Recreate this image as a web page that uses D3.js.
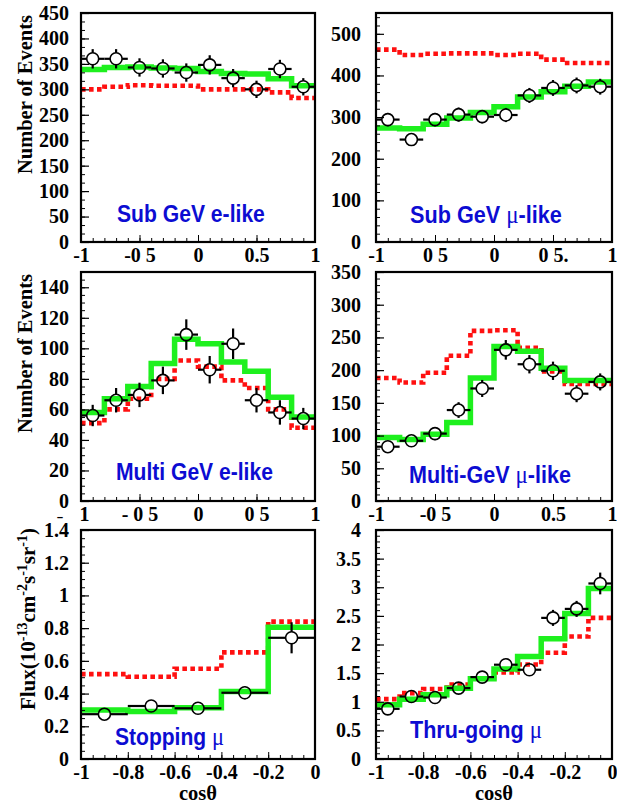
<!DOCTYPE html>
<html>
<head>
<meta charset="utf-8">
<script src="https://cdn.jsdelivr.net/npm/d3@7"></script>
<style>
  html, body { margin: 0; padding: 0; background: #fff; }
  svg { display: block; }
</style>
</head>
<body>
<svg id="chart" width="617" height="803"></svg>
<script>
// ---------- zenith-angle distributions ----------
// bin edges in cos(theta)
const edgesFull = [-1, -0.8, -0.6, -0.4, -0.2, 0, 0.2, 0.4, 0.6, 0.8, 1];
const edgesStop = [-1, -0.8, -0.6, -0.4, -0.2, 0];
const edgesThru = [-1, -0.9, -0.8, -0.7, -0.6, -0.5, -0.4, -0.3, -0.2, -0.1, 0];

// Sub-GeV e-like
const subEData   = [360, 360, 343, 341, 333, 348, 322, 300, 340, 305];
const subEErr    = [19, 19, 18, 18, 18, 19, 18, 17, 18, 17];
const subEOsc    = [339, 343, 344, 342, 341, 335, 331, 330, 321, 307];
const subENoOsc  = [300, 305, 308, 307, 307, 300, 300, 300, 294, 283];

// Sub-GeV mu-like
const subMuData  = [294, 246, 294, 306, 301, 305, 352, 370, 376, 373];
const subMuErr   = [16, 15, 16, 17, 16, 17, 18, 19, 19, 19];
const subMuOsc   = [274, 272, 283, 298, 311, 325, 348, 361, 374, 384];
const subMuNoOsc = [462, 449, 452, 453, 453, 449, 452, 438, 430, 430];

// Multi-GeV e-like
const mulEData   = [56, 66, 69.5, 79, 109, 86, 103, 66, 58, 54];
const mulEErr    = [7, 8, 8, 9, 10, 9, 10, 8, 8, 7];
const mulEOsc    = [58, 67, 75, 90, 106, 103, 91, 85, 68, 55];
const mulENoOsc  = [51, 60, 67, 80, 92, 88, 79, 74, 60, 48];

// Multi-GeV mu-like
const mulMuData  = [83, 92, 103, 139, 172, 231, 209, 199, 164, 182];
const mulMuErr   = [9, 9, 10, 12, 13, 15, 14, 14, 13, 13];
const mulMuOsc   = [97, 94, 102, 120, 188, 236, 229, 203, 184, 184];
const mulMuNoOsc = [188, 181, 196, 222, 260, 261, 234, 198, 179, 179];

// Upward stopping muons (flux, 1e-13 cm^-2 s^-1 sr^-1)
const stopData   = [0.274, 0.324, 0.310, 0.405, 0.741];
const stopErr    = [0.035, 0.035, 0.03, 0.04, 0.095];
const stopOsc    = [0.300, 0.290, 0.314, 0.412, 0.805];
const stopNoOsc  = [0.519, 0.503, 0.552, 0.652, 0.840];

// Upward through-going muons
const thruData   = [0.876, 1.092, 1.074, 1.238, 1.431, 1.647, 1.559, 2.465, 2.622, 3.066];
const thruErr    = [0.05, 0.06, 0.06, 0.06, 0.07, 0.09, 0.09, 0.14, 0.14, 0.19];
const thruOsc    = [0.946, 1.045, 1.121, 1.238, 1.402, 1.571, 1.792, 2.102, 2.540, 2.978];
const thruNoOsc  = [1.045, 1.15, 1.223, 1.30, 1.41, 1.51, 1.65, 1.855, 2.14, 2.465];

// axis ticks and labels
const yTicksSubE  = [0, 50, 100, 150, 200, 250, 300, 350, 400, 450];
const yTicksSubMu = [0, 100, 200, 300, 400, 500];
const yTicksMulE  = [0, 20, 40, 60, 80, 100, 120, 140];
const yTicksMulMu = [0, 50, 100, 150, 200, 250, 300, 350];
const yTicksStop  = [0, 0.2, 0.4, 0.6, 0.8, 1, 1.2, 1.4];
const yTicksThru  = [0, 0.5, 1, 1.5, 2, 2.5, 3, 3.5, 4];
const xTicksFull  = [-1, -0.5, 0, 0.5, 1];
const xTicksUp    = [-1, -0.8, -0.6, -0.4, -0.2, 0];
const xLabelsSubE  = ["-1", "-0 5", "0", "0.5", "1"];
const xLabelsSubMu = ["-1", "0 5", "0", "0 5.", "1"];
const xLabelsMulE  = ["1", "- 0 5", "0", "0 5", "1"];
const xLabelsMulMu = ["-1", "-0 5", "0", "0.5", "1"];
const xLabelsUp    = ["-1", "-0.8", "-0.6", "-0.4", "-0.2", "0"];

// ---------- styling ----------
const SERIF = "'Liberation Serif','Times New Roman',serif";
const SANS = "'Liberation Sans',Arial,Helvetica,sans-serif";
const GREEN = "#1ef01e";
const RED = "#ff1010";
const BLUE = "#0c0cd2";

const cols = [[81, 315], [376, 612]];
const rows = [[13, 242], [272, 501], [530, 759]];

const panels = [
  { col: 0, row: 0, edges: edgesFull, data: subEData, err: subEErr, osc: subEOsc, noosc: subENoOsc,
    yMax: 450, yTicks: yTicksSubE, ySub: 3, xTicks: xTicksFull, xLabels: xLabelsSubE, xMinor: 0.1,
    title: ["Sub GeV e-like"], titlePos: [117, 222], titleLen: 148, yTitle: "events" },
  { col: 1, row: 0, edges: edgesFull, data: subMuData, err: subMuErr, osc: subMuOsc, noosc: subMuNoOsc,
    yMax: 550, yTicks: yTicksSubMu, ySub: 5, xTicks: xTicksFull, xLabels: xLabelsSubMu, xMinor: 0.1,
    title: ["Sub GeV ", "μ", "-like"], titlePos: [410, 223], titleLen: 152 },
  { col: 0, row: 1, edges: edgesFull, data: mulEData, err: mulEErr, osc: mulEOsc, noosc: mulENoOsc,
    yMax: 150, yTicks: yTicksMulE, ySub: 4, xTicks: xTicksFull, xLabels: xLabelsMulE, xMinor: 0.1,
    title: ["Multi GeV e-like"], titlePos: [116, 480], titleLen: 157, yTitle: "events", looseMinus: true },
  { col: 1, row: 1, edges: edgesFull, data: mulMuData, err: mulMuErr, osc: mulMuOsc, noosc: mulMuNoOsc,
    yMax: 350, yTicks: yTicksMulMu, ySub: 5, xTicks: xTicksFull, xLabels: xLabelsMulMu, xMinor: 0.1,
    title: ["Multi-GeV ", "μ", "-like"], titlePos: [409, 483], titleLen: 162 },
  { col: 0, row: 2, edges: edgesStop, data: stopData, err: stopErr, osc: stopOsc, noosc: stopNoOsc,
    yMax: 1.4, yTicks: yTicksStop, ySub: 4, xTicks: xTicksUp, xLabels: xLabelsUp, xMinor: 0.05,
    title: ["Stopping ", "μ"], titlePos: [115, 745], titleLen: 109, yTitle: "flux", xTitle: true },
  { col: 1, row: 2, edges: edgesThru, data: thruData, err: thruErr, osc: thruOsc, noosc: thruNoOsc,
    yMax: 4, yTicks: yTicksThru, ySub: 5, xTicks: xTicksUp, xLabels: xLabelsUp, xMinor: 0.05,
    title: ["Thru-going ", "μ"], titlePos: [410, 738], titleLen: 132, xTitle: true }
];

const svg = d3.select("#chart");
const defs = svg.append("defs");

// turn bin values into a step outline
function steps(edges, vals) {
  const pts = [];
  vals.forEach((v, i) => { pts.push([edges[i], v]); pts.push([edges[i + 1], v]); });
  return pts;
}

panels.forEach((p, k) => {
  const [x0, x1] = cols[p.col];
  const [y0, y1] = rows[p.row];
  const xDom = [p.edges[0], p.edges[p.edges.length - 1]];
  const x = d3.scaleLinear().domain(xDom).range([x0, x1]);
  const y = d3.scaleLinear().domain([0, p.yMax]).range([y1, y0]);
  const g = svg.append("g");

  defs.append("clipPath").attr("id", "clip" + k)
    .append("rect").attr("x", x0).attr("y", y0).attr("width", x1 - x0).attr("height", y1 - y0);
  const plot = g.append("g").attr("clip-path", `url(#clip${k})`);

  const line = d3.line().x(d => x(d[0])).y(d => y(d[1]));

  // expectation without oscillation
  plot.append("path").datum(steps(p.edges, p.noosc))
    .attr("d", line).attr("fill", "none")
    .attr("stroke", RED).attr("stroke-width", 4.6)
    .attr("stroke-dasharray", "4.6 3.4");

  // oscillation best fit
  plot.append("path").datum(steps(p.edges, p.osc))
    .attr("d", line).attr("fill", "none")
    .attr("stroke", GREEN).attr("stroke-width", 5.5)
    .attr("stroke-linejoin", "miter");

  // data points with error bars
  const r = 6;
  p.data.forEach((v, i) => {
    const lo = p.edges[i], hi = p.edges[i + 1];
    const cx = x((lo + hi) / 2), cy = y(v);
    const top = y(v + p.err[i]), bot = y(v - p.err[i]);
    const segs = [
      [x(lo), cy, cx - r, cy], [cx + r, cy, x(hi), cy]
    ];
    if (cy - top > r) segs.push([cx, top, cx, cy - r]);
    if (bot - cy > r) segs.push([cx, cy + r, cx, bot]);
    segs.forEach(s => {
      plot.append("line").attr("x1", s[0]).attr("y1", s[1]).attr("x2", s[2]).attr("y2", s[3])
        .attr("stroke", "#000").attr("stroke-width", 2.2);
    });
    plot.append("circle").attr("cx", cx).attr("cy", cy).attr("r", r)
      .attr("fill", "none").attr("stroke", "#000").attr("stroke-width", 1.6);
  });

  // y axis: minor then major ticks pointing inward
  const yMajorStep = p.yTicks[1] - p.yTicks[0];
  const yMinor = d3.range(0, p.yMax + 1e-9, yMajorStep / p.ySub);
  g.append("g").attr("transform", `translate(${x0},0)`)
    .call(d3.axisLeft(y).tickValues(yMinor).tickSize(-4).tickFormat(""))
    .call(a => a.select(".domain").remove());
  const yAx = g.append("g").attr("transform", `translate(${x0},0)`)
    .call(d3.axisLeft(y).tickValues(p.yTicks).tickSize(-8).tickPadding(p.col === 0 ? 12 : 15)
      .tickFormat(d3.format("~g")))
    .call(a => a.select(".domain").remove());
  yAx.selectAll("text").attr("font-family", SERIF).attr("font-weight", "bold")
    .attr("font-size", 20).attr("fill", "#000");
  yAx.selectAll(".tick line").attr("stroke-width", 1.2);

  // x axis
  const xMinor = d3.range(xDom[0], xDom[1] + 1e-9, p.xMinor);
  g.append("g").attr("transform", `translate(0,${y1})`)
    .call(d3.axisBottom(x).tickValues(xMinor).tickSize(-4).tickFormat(""))
    .call(a => a.select(".domain").remove());
  const xAx = g.append("g").attr("transform", `translate(0,${y1})`)
    .call(d3.axisBottom(x).tickValues(p.xTicks).tickSize(-7).tickPadding(6)
      .tickFormat((d, i) => p.xLabels[i]))
    .call(a => a.select(".domain").remove());
  xAx.selectAll("text").attr("font-family", SERIF).attr("font-weight", "bold")
    .attr("font-size", 20).attr("fill", "#000").style("white-space", "pre");
  if (p.looseMinus) {
    // the minus of the first label is printed detached, lower and to the left
    xAx.select(".tick text").attr("x", 3);
    g.append("text").attr("transform", `translate(${x0 - 21},${y1 + 20}) scale(1.5,1)`)
      .attr("text-anchor", "middle").attr("font-family", SERIF).attr("font-weight", "bold")
      .attr("font-size", 14).text("-");
  }
  g.selectAll(".tick line").attr("stroke", "#000");

  // frame
  g.append("rect").attr("x", x0).attr("y", y0).attr("width", x1 - x0).attr("height", y1 - y0)
    .attr("fill", "none").attr("stroke", "#000").attr("stroke-width", 2.2);

  // sample name, condensed horizontally to the printed width
  const t = g.append("text")
    .attr("font-family", SANS).attr("font-weight", "bold").attr("font-size", 24.5)
    .attr("fill", BLUE).style("white-space", "pre");
  p.title.forEach(s => {
    const ts = t.append("tspan").text(s);
    if (s === "μ") ts.attr("font-family", SERIF).attr("font-weight", "normal").attr("font-size", 26);
  });
  const natural = t.node().getComputedTextLength();
  const sx = p.titleLen / natural;
  t.attr("transform", `translate(${p.titlePos[0]},${p.titlePos[1]}) scale(${sx},1)`);

  // axis titles
  if (p.yTitle === "events") {
    g.append("text").attr("transform", `translate(32,${y0 + 2}) rotate(-90)`)
      .attr("text-anchor", "end").attr("font-family", SERIF).attr("font-weight", "bold")
      .attr("font-size", 20.5).text("Number of Events");
  }
  if (p.yTitle === "flux") {
    const ft = g.append("text").attr("transform", `translate(35,${y0 - 2}) rotate(-90)`)
      .attr("text-anchor", "end").attr("font-family", SERIF).attr("font-weight", "bold")
      .attr("font-size", 21);
    const parts = [["Flux(10", 0], ["-13", 1], ["cm", 0], ["-2", 1], ["s", 0], ["-1", 1],
                   ["sr", 0], ["-1", 1], [")", 0]];
    let up = false;
    parts.forEach(([s, sup]) => {
      const ts = ft.append("tspan").text(s);
      if (sup) { ts.attr("font-size", 14).attr("dy", -8); up = true; }
      else if (up) { ts.attr("dy", 8); up = false; }
    });
  }
  if (p.xTitle) {
    g.append("text").attr("x", (x0 + x1) / 2).attr("y", 800)
      .attr("text-anchor", "middle").attr("font-family", SERIF).attr("font-weight", "bold")
      .attr("font-size", 20.5).text("cosθ");
  }
});
</script>
</body>
</html>
